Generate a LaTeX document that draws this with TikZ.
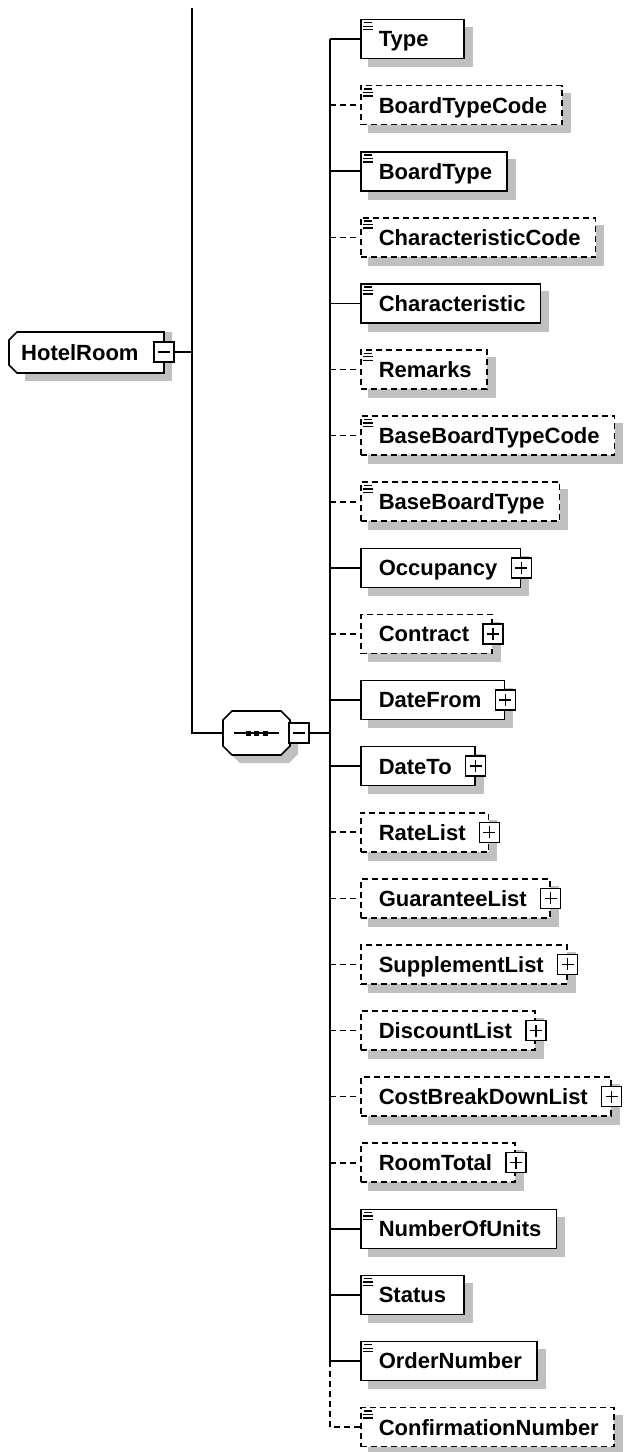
\documentclass[tikz,border=0pt]{standalone}
\usepackage{fontspec}
\setmainfont{Liberation Sans}
\usetikzlibrary{backgrounds}
\definecolor{shadowgray}{RGB}{192,192,192}
\newlength\elw
\newcommand\elfont{\fontsize{22pt}{24pt}\selectfont\bfseries}
\newcommand\elemtext[2]{\settowidth\elw{\elfont #1}\addtolength\elw{18pt}\addtolength\elw{#2}\ifdim\elw<103pt\relax\elw=103pt\fi\makebox[\elw][l]{\hspace*{18pt}\elfont #1}}
\tikzset{
 line/.style={line width=1.6pt},
 dsh/.style={dash pattern=on 6pt off 4pt},
 elbox/.style={draw, fill=white, line width=1.6pt, anchor=west, inner xsep=0pt, inner ysep=0pt, minimum height=39pt, text height=15.8pt, text depth=0pt},
 pbox/.style={draw, fill=white, line width=1.4pt, minimum size=20pt, inner sep=0pt},
 sign/.style={line width=1.4pt},
}
\begin{document}
\begin{tikzpicture}[x=1pt,y=-1pt]
\useasboundingbox (0,0) rectangle (629,1452);
% HotelRoom
\fill[shadowgray] (17,340)--(25,332)--(172,332)--(172,373)--(25,373)--(17,365)--cycle;
\fill[shadowgray] (25,340) rectangle (172,381);
\draw[line, fill=white] (9,340)--(17,332)--(164,332)--(164,373)--(17,373)--(9,365)--cycle;
\node[anchor=west, inner sep=0pt, text height=15.8pt, text depth=0pt] (hr) at (21,352.5) {\elfont HotelRoom};
\node[pbox] (hrm) at (164,352) {};
\draw[sign] ([xshift=-6pt]hrm.center) -- ([xshift=6pt]hrm.center);
% compositor
\fill[shadowgray] (240,719) -- (289,719) -- (298,728) -- (298,754) -- (289,763) -- (240,763) -- (231,754) -- (231,728) -- cycle;
\draw[line, fill=white] (232,711) -- (281,711) -- (290,720) -- (290,746) -- (281,755) -- (232,755) -- (223,746) -- (223,720) -- cycle;
\node[minimum width=67pt, minimum height=44pt, inner sep=0pt] (seq) at (256.5,733) {};
\draw[line] (234,733) -- (279,733);
\fill (245.5,730.5) rectangle +(5,5);
\fill (254,730.5) rectangle +(5,5);
\fill (262.5,730.5) rectangle +(5,5);
\node[pbox] (seqm) at (299,733) {};
\draw[sign] ([xshift=-6pt]seqm.center) -- ([xshift=6pt]seqm.center);
% main trunk
\coordinate (top) at (192,8);
\coordinate (j) at (192,733);
\draw[line] (top) -- (j) -- (seq.west);
\draw[line] (hrm.east) -- (hrm.east -| top);
% children
\foreach \t/\o/\k [count=\i from 0] in {Type/0/0, BoardTypeCode/1/0, BoardType/0/0, CharacteristicCode/1/0, Characteristic/0/0, Remarks/1/0, BaseBoardTypeCode/1/0, BaseBoardType/1/0, Occupancy/0/1, Contract/1/1, DateFrom/0/1, DateTo/0/1, RateList/1/1, GuaranteeList/1/1, SupplementList/1/1, DiscountList/1/1, CostBreakDownList/1/1, RoomTotal/1/1, NumberOfUnits/0/0, Status/0/0, OrderNumber/0/0, ConfirmationNumber/1/0}
{
 \pgfmathsetmacro\yy{39+66.1*\i}
 \ifnum\k=1 \def\elpad{23pt}\else\def\elpad{15pt}\fi
 \ifnum\o=1 \tikzset{curdash/.style={dsh}}\else\tikzset{curdash/.style={}}\fi
 \node[elbox, curdash] (n\i) at (360,\yy) {\elemtext{\t}{\elpad}};
 \begin{scope}[on background layer]
  \fill[shadowgray] ([shift={(8,8)}]n\i.north west) rectangle ([shift={(8,8)}]n\i.south east);
 \end{scope}
 \coordinate (b\i) at (330,\yy);
 \ifnum\i<21 \draw[line, curdash] (b\i) -- (n\i.west); \fi
 \ifnum\k=1
   \node[pbox] (p\i) at (n\i.east) {};
   \draw[sign] ([xshift=-6pt]p\i.center) -- ([xshift=6pt]p\i.center) ([yshift=-6pt]p\i.center) -- ([yshift=6pt]p\i.center);
 \else
   \draw[line width=1.4pt] ([shift={(4,4)}]n\i.north west) -- ++(8,0)
     ([shift={(3,7.5)}]n\i.north west) -- ++(10,0)
     ([shift={(3,11)}]n\i.north west) -- ++(10,0);
 \fi
}
\draw[line] (b0) -- (b20);
\draw[line, dsh] (b20) -- (b21) -- (n21.west);
\draw[line] (seqm.east) -- (seqm.east -| b0);
\end{tikzpicture}
\end{document}
